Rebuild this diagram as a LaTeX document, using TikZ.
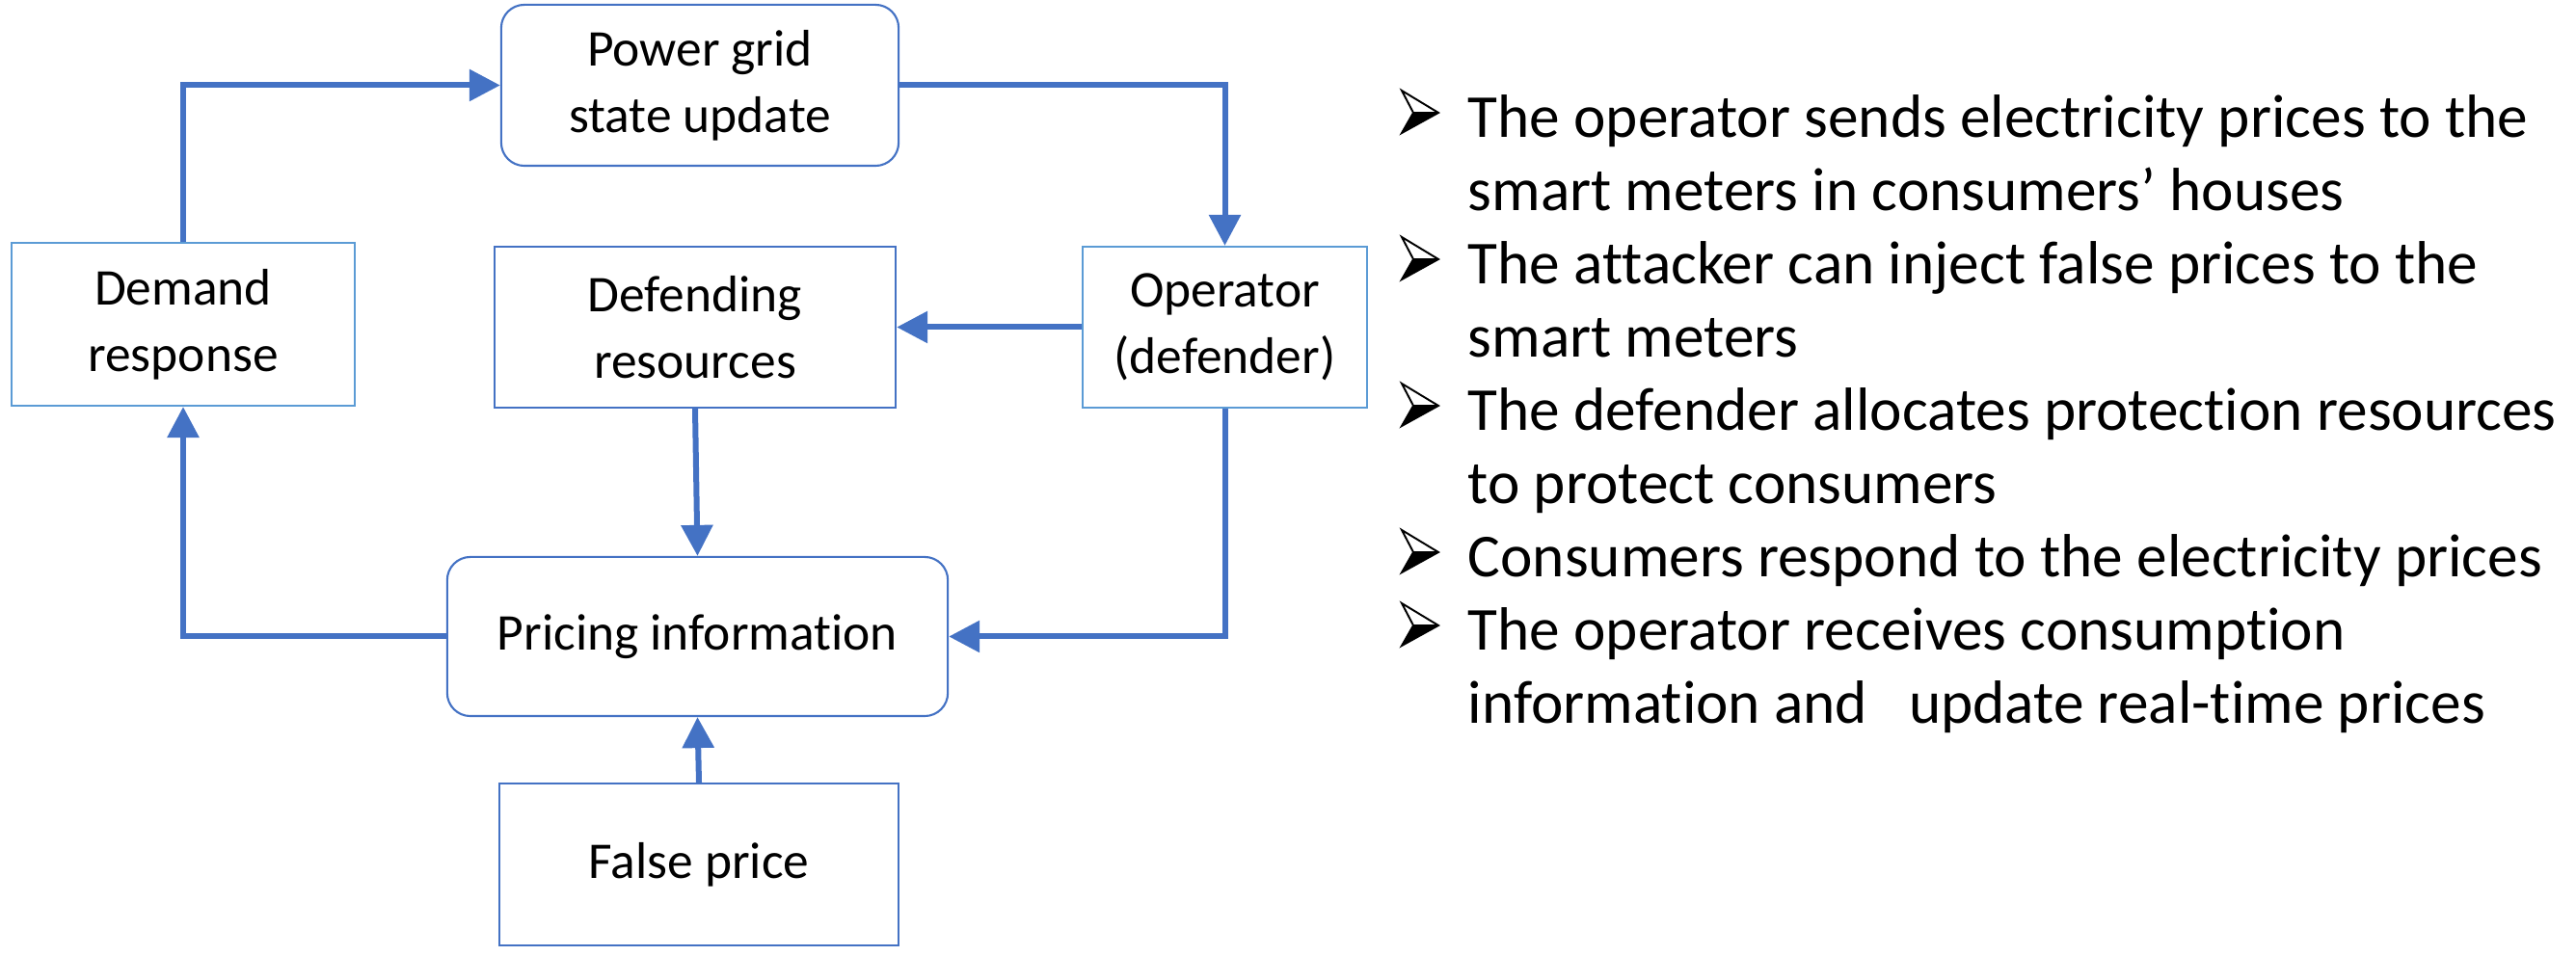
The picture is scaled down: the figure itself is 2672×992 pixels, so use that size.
\documentclass[tikz,border=0pt]{standalone}
\usepackage{fontspec}
\setmainfont{Carlito}[Ligatures=NoCommon]
\usetikzlibrary{arrows.meta}
\definecolor{mainblue}{HTML}{4472C4}
\definecolor{lightblue}{HTML}{5B9BD5}
\tikzset{
  box/.style={draw=mainblue, line width=0.6pt, fill=white, align=center,
    font=\fontsize{15.2}{19.6}\selectfont, inner sep=0pt},
  lbox/.style={box, draw=lightblue},
  rbox/.style={box, rounded corners=0.24cm},
  flow/.style={draw=mainblue, line width=0.06cm, -{Triangle[length=0.32cm,width=0.32cm]}},
  btext/.style={anchor=base west, inner sep=0pt, font=\fontsize{18}{21.8}\selectfont},
  bul/.pic={
    \fill[black] (12,-26) -- (38,-26) -- (0,-5) -- cycle;
    \draw[black, line width=0.55pt, line join=miter] (0,-49) -- (38,-26) -- (0,-5) -- (12,-26) -- cycle;
    \draw[black, line width=0.55pt] (12,-26) -- (38,-26);
  },
}
\begin{document}
\begin{tikzpicture}[x=0.01cm, y=-0.01cm]
\useasboundingbox (0,0) rectangle (2672,992);
% boxes
\node[rbox, minimum width=4.12cm, minimum height=1.67cm] (pg) at (726,88.5) {Power grid\\state update};
\node[lbox, minimum width=3.56cm, minimum height=1.69cm] (dr) at (190,336.5) {Demand\\response};
\node[box, minimum width=4.16cm, minimum height=1.67cm] (def) at (721,339.5) {Defending\\resources};
\node[lbox, minimum width=2.95cm, minimum height=1.67cm] (op) at (1270.5,339.5) {Operator\\(defender)};
\node[rbox, minimum width=5.19cm, minimum height=1.65cm] (pi) at (723.5,660.5) {Pricing information};
\node[box, minimum width=4.14cm, minimum height=1.68cm] (fp) at (725,897) {False price};
% connectors
\draw[flow] (dr.north) |- (pg.west);
\draw[flow] (pg.east) -| (op.north);
\draw[flow] (op.west) -- (def.east);
\draw[flow] (def.south) -- (pi.north);
\draw[flow] (op.south) |- (pi.east);
\draw[flow] (pi.west) -| (dr.south);
\draw[flow] (fp.north) -- (pi.south);
% bullets
\pic at (1454,143) {bul};
\node[btext] (t1a) at (1522,143) {The operator sends electricity prices to the};
\node[btext] (t1b) at (1522,219) {smart meters in consumers’ houses};
\pic at (1454,295) {bul};
\node[btext] (t2a) at (1522,295) {The attacker can inject false prices to the};
\node[btext] (t2b) at (1522,371) {smart meters};
\pic at (1454,447) {bul};
\node[btext] (t3a) at (1522,447) {The defender allocates protection resources};
\node[btext] (t3b) at (1522,523) {to protect consumers};
\pic at (1454,599) {bul};
\node[btext] (t4a) at (1522,599) {Consumers respond to the electricity prices};
\pic at (1454,675) {bul};
\node[btext] (t5a) at (1522,675) {The operator receives consumption};
\node[btext] (t5b) at (1522,751) {information and\ \ \ update real-time prices};
\end{tikzpicture}
\end{document}
